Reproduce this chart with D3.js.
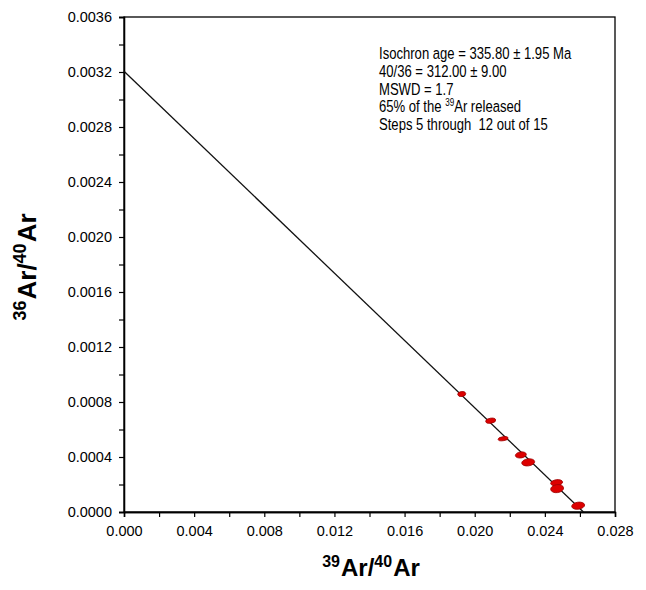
<!DOCTYPE html>
<html><head><meta charset="utf-8">
<script src="https://cdn.jsdelivr.net/npm/d3@7"></script>
<style>body{margin:0;background:#fff}svg{display:block}text{font-family:"Liberation Sans",Arial,sans-serif}</style>
</head><body><svg id="c" width="646" height="590"></svg>
<script>
// data
const xTicks = [0, 0.004, 0.008, 0.012, 0.016, 0.020, 0.024, 0.028];
const yTicks = [0, 0.0004, 0.0008, 0.0012, 0.0016, 0.0020, 0.0024, 0.0028, 0.0032, 0.0036];
const xMinor = [0.002, 0.006, 0.010, 0.014, 0.018, 0.022, 0.026];
const yMinor = [0.0002, 0.0006, 0.0010, 0.0014, 0.0018, 0.0022, 0.0026, 0.0030, 0.0034];
const pX  = [0.01926, 0.02091, 0.02162, 0.02263, 0.02305, 0.02467, 0.02470, 0.02590];
const pY  = [0.000858, 0.000664, 0.000533, 0.000415, 0.000361, 0.000213, 0.000170, 0.0000458];
const pSx = [0.00023, 0.000286, 0.000286, 0.000314, 0.000371, 0.000343, 0.000371, 0.000371];
const pSy = [0.0000182, 0.0000182, 0.0000145, 0.0000218, 0.0000255, 0.0000218, 0.0000291, 0.0000255];
const lineX = [0, 0.0262];
const lineY = [0.003205, 0];
const notes = ["Isochron age = 335.80 ± 1.95 Ma", "40/36 = 312.00 ± 9.00", "MSWD = 1.7", "65% of the |39|Ar released", "Steps 5 through  12 out of 15"];

const svg = d3.select("#c");
const L = 124, R = 615, T = 17, B = 512;
const x = d3.scaleLinear().domain([0, 0.028]).range([L, R]);
const y = d3.scaleLinear().domain([0, 0.0036]).range([B, T]);

// frame
svg.append("rect").attr("x", L).attr("y", T).attr("width", R - L).attr("height", B - T)
  .attr("fill", "none").attr("stroke", "#000").attr("stroke-width", 1.3);

svg.append("g").attr("transform", `translate(0,${B})`)
  .call(d3.axisBottom(x).tickValues(xTicks).tickFormat(d3.format(".3f")).tickSizeOuter(0).tickSize(5).tickPadding(9));
svg.append("g").attr("transform", `translate(0,${B})`)
  .call(d3.axisBottom(x).tickValues(xMinor).tickFormat("").tickSizeOuter(0).tickSize(5));
svg.append("g").attr("transform", `translate(${L},0)`)
  .call(d3.axisLeft(y).tickValues(yTicks).tickFormat(d3.format(".4f")).tickSizeOuter(0).tickSize(5).tickPadding(7));
svg.append("g").attr("transform", `translate(${L},0)`)
  .call(d3.axisLeft(y).tickValues(yMinor).tickFormat("").tickSizeOuter(0).tickSize(5));
svg.selectAll(".domain").attr("stroke", "#000").attr("stroke-width", 1.3);
svg.selectAll(".tick line").attr("stroke", "#000").attr("stroke-width", 1.2);
svg.selectAll(".tick text").attr("font-size", 14.5).attr("fill", "#000")
  .attr("font-family", "'Liberation Sans',Arial,sans-serif");

// isochron line
svg.append("line").attr("x1", x(lineX[0])).attr("y1", y(lineY[0]))
  .attr("x2", x(lineX[1])).attr("y2", y(lineY[1]))
  .attr("stroke", "#111").attr("stroke-width", 1.3);

// ellipses
pX.forEach((v, i) => {
  const cx = x(v), cy = y(pY[i]);
  svg.append("ellipse").attr("cx", cx).attr("cy", cy)
    .attr("rx", x(pSx[i]) - x(0)).attr("ry", y(0) - y(pSy[i]))
    .attr("transform", `rotate(-8,${cx},${cy})`)
    .attr("fill", "#dd0000").attr("stroke", "#a00000").attr("stroke-width", 0.8);
});

// notes
const nt = svg.append("g");
notes.forEach((s, i) => {
  const t = nt.append("text").attr("x", 379).attr("y", 59 + i * 17.8).attr("font-size", 17)
    .style("white-space", "pre")
    .attr("fill", "#000").attr("transform", `translate(379,0) scale(0.77,1) translate(-379,0)`);
  const parts = s.split("|");
  parts.forEach((p, j) => {
    if (j % 2 === 1) t.append("tspan").attr("font-size", 10.5).attr("dy", -6).text(p);
    else if (j > 0) t.append("tspan").attr("dy", 6).text(p);
    else t.append("tspan").text(p);
  });
});

// axis titles
function title(g, sup1, sup2, fs, ss) {
  const t = g.append("text").attr("font-weight", "bold").attr("font-size", fs).attr("fill", "#000").attr("text-anchor", "middle");
  const d = Math.round(fs * 0.38);
  t.append("tspan").attr("font-size", ss).attr("dy", -d).text(sup1);
  t.append("tspan").attr("dy", d).attr("dx", 1).text("Ar/");
  t.append("tspan").attr("font-size", ss).attr("dy", -d).text(sup2);
  t.append("tspan").attr("dy", d).attr("dx", 1).text("Ar");
  return t;
}
title(svg.append("g").attr("transform", "translate(371,576)"), "39", "40", 24, 16);
title(svg.append("g").attr("transform", "translate(36,267) rotate(-90)"), "36", "40", 26, 18);
</script></body></html>
